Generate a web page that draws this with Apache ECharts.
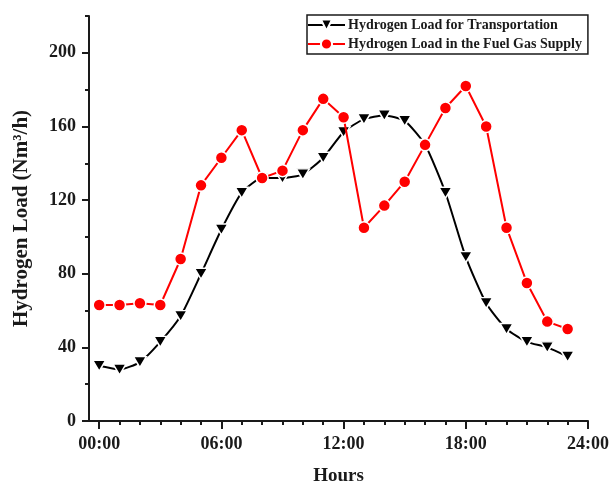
<!DOCTYPE html>
<html>
<head>
<meta charset="utf-8">
<script src="https://cdn.jsdelivr.net/npm/echarts@6/dist/echarts.min.js"></script>
<style>
  html, body { margin: 0; padding: 0; background: #fff; }
  #chart { width: 612px; height: 482px; }
</style>
</head>
<body>
<div id="chart"></div>
<script>
// Hour of day for each sample
const hours = [0, 1, 2, 3, 4, 5, 6, 7, 8, 9, 10, 11, 12, 13, 14, 15, 16, 17, 18, 19, 20, 21, 22, 23];

// Hydrogen load (Nm3/h)
const transportLoad = [30, 28, 32, 43, 57, 80, 104, 124, 132, 132, 134, 143, 157, 164, 166, 163, 150, 124, 89, 64, 50, 43, 40, 35];
const fuelGasLoad   = [63, 63, 64, 63, 88, 128, 143, 158, 132, 136, 158, 175, 165, 105, 117, 130, 150, 170, 182, 160, 105, 75, 54, 50];

// Axis ticks
const xMajorTicks = [0, 6, 12, 18, 24];
const xMinorTicks = [1, 2, 3, 4, 5, 7, 8, 9, 10, 11, 13, 14, 15, 16, 17, 19, 20, 21, 22, 23];
const yMajorTicks = [0, 40, 80, 120, 160, 200];
const yMinorTicks = [20, 60, 100, 140, 180, 220];

const seriesNames = ['Hydrogen Load for Transportation', 'Hydrogen Load in the Fuel Gas Supply'];

const FONT = '"Liberation Serif", "Times New Roman", serif';
const INK = '#1a1a1a';

const pairs = (vals) => hours.map((h, i) => [h, vals[i]]);
const hhmm = (v) => (v < 10 ? '0' + v : '' + v) + ':00';

const chart = echarts.init(document.getElementById('chart'), null, { renderer: 'canvas' });

// Axes sit on the grid edges, not on the zero lines
const xBase = { type: 'value', min: -0.5, max: 24, splitLine: { show: false } };
const yBase = { type: 'value', min: 0, max: 220, interval: 40, splitLine: { show: false } };

chart.setOption({
  backgroundColor: '#fff',
  animation: false,
  grid: { left: 89, right: 24, top: 16, bottom: 61, containLabel: false, outerBoundsMode: 'none' },
  legend: {
    orient: 'vertical',
    left: 307,
    top: 15,
    width: 281,
    padding: [3, 6, 3, 0],
    itemGap: 5,
    itemWidth: 37,
    itemHeight: 14,
    borderColor: INK,
    borderWidth: 1.5,
    textStyle: { fontFamily: FONT, fontWeight: 'bold', fontSize: 14, color: INK, padding: [0, 0, 0, -2] },
    data: seriesNames
  },
  xAxis: [
    Object.assign({}, xBase, {
      name: 'Hours',
      nameLocation: 'middle',
      nameGap: 46,
      nameTextStyle: { fontFamily: FONT, fontWeight: 'bold', fontSize: 19, color: INK },
      axisLine: { show: true, onZero: false, lineStyle: { color: INK, width: 2 } },
      axisTick: { show: true, customValues: xMajorTicks, length: 8, lineStyle: { color: INK, width: 2 } },
      axisLabel: {
        customValues: xMajorTicks, margin: 14, formatter: hhmm,
        fontFamily: FONT, fontWeight: 'bold', fontSize: 18, color: INK
      }
    }),
    Object.assign({}, xBase, {
      position: 'bottom',
      axisLine: { show: false, onZero: false },
      axisTick: { show: true, customValues: xMinorTicks, length: 4, lineStyle: { color: INK, width: 2 } },
      axisLabel: { show: false }
    })
  ],
  yAxis: [
    Object.assign({}, yBase, {
      name: 'Hydrogen Load (Nm³/h)',
      nameLocation: 'middle',
      nameGap: 57,
      nameTextStyle: { fontFamily: FONT, fontWeight: 'bold', fontSize: 21, color: INK },
      axisLine: { show: true, onZero: false, lineStyle: { color: INK, width: 2 } },
      axisTick: { show: true, customValues: yMajorTicks, length: 7, lineStyle: { color: INK, width: 2 } },
      axisLabel: {
        customValues: yMajorTicks, margin: 13,
        fontFamily: FONT, fontWeight: 'bold', fontSize: 18, color: INK
      }
    }),
    Object.assign({}, yBase, {
      position: 'left',
      axisLine: { show: false, onZero: false },
      axisTick: { show: true, customValues: yMinorTicks, length: 4, lineStyle: { color: INK, width: 2 } },
      axisLabel: { show: false }
    })
  ],
  series: [
    {
      name: seriesNames[0],
      type: 'line',
      xAxisIndex: 0,
      yAxisIndex: 0,
      data: pairs(transportLoad),
      smooth: 0.2,
      symbol: 'triangle',
      symbolRotate: 180,
      symbolSize: [13, 11],
      lineStyle: { color: '#000', width: 2 },
      itemStyle: { color: '#000', borderColor: '#fff', borderWidth: 1.5 },
      z: 2
    },
    {
      name: seriesNames[1],
      type: 'line',
      xAxisIndex: 0,
      yAxisIndex: 0,
      data: pairs(fuelGasLoad),
      symbol: 'circle',
      symbolSize: 12,
      lineStyle: { color: '#ff0000', width: 2 },
      itemStyle: { color: '#ff0000', borderColor: '#fff', borderWidth: 1.5 },
      z: 3
    }
  ]
});
</script>
</body>
</html>
